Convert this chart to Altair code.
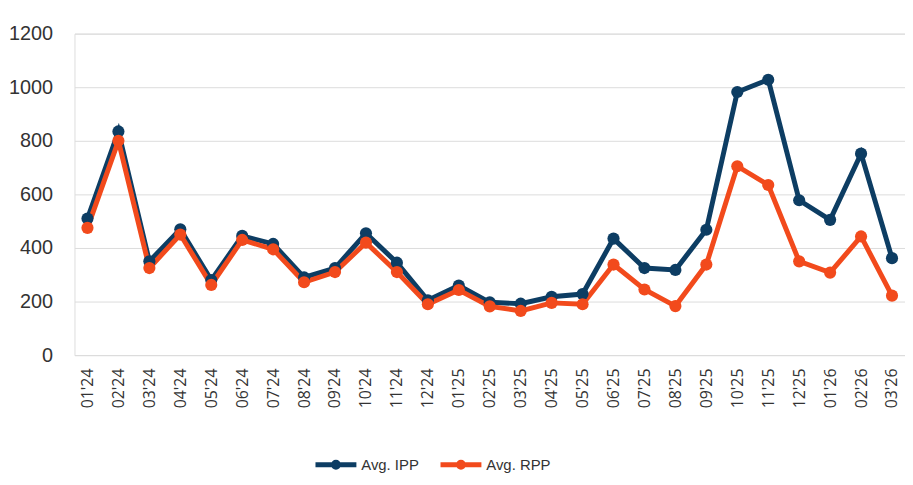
import altair as alt
import pandas as pd

months = ["01'24", "02'24", "03'24", "04'24", "05'24", "06'24", "07'24", "08'24", "09'24",
          "10'24", "11'24", "12'24", "01'25", "02'25", "03'25", "04'25", "05'25", "06'25",
          "07'25", "08'25", "09'25", "10'25", "11'25", "12'25", "01'26", "02'26", "03'26"]
ipp = [510, 835, 350, 470, 280, 445, 415, 290, 325, 455, 345, 205, 260, 197, 192, 218, 228,
       435, 325, 318, 468, 982, 1028, 578, 505, 752, 362]
rpp = [475, 800, 325, 450, 262, 430, 395, 272, 310, 420, 310, 190, 243, 182, 165, 195, 190,
       338, 245, 183, 338, 705, 635, 350, 308, 443, 222]
series = ["Avg. IPP", "Avg. RPP"]
colors = ["#0d3d63", "#f24a1c"]

rows = []
for i, m in enumerate(months):
    rows.append({"month": m, "series": series[0], "value": ipp[i], "order": i})
    rows.append({"month": m, "series": series[1], "value": rpp[i], "order": i})
df = pd.DataFrame(rows)

legend_symbol = "M-1,0L1,0M-0.12,0A0.12,0.12 0 1,1 0.12,0A0.12,0.12 0 1,1 -0.12,0Z"

chart = alt.Chart(df).mark_line(
    strokeWidth=5,
    point=alt.OverlayMarkDef(filled=True, size=150)
).encode(
    x=alt.X("month:N", sort=months,
            scale=alt.Scale(type="point", padding=0.42),
            axis=alt.Axis(title=None, labelAngle=-90, labelFontSize=16, labelColor="#333333",
                          labelFont="Open Sans", ticks=False, domain=False, grid=False,
                          labelPadding=13, labelBaseline="middle", labelAlign="right")),
    y=alt.Y("value:Q", scale=alt.Scale(domain=[0, 1200], nice=False),
            axis=alt.Axis(title=None, values=[0, 200, 400, 600, 800, 1000, 1200], format="d",
                          labelFontSize=20, labelColor="#333333", labelFont="Liberation Sans",
                          ticks=False, domain=False, gridColor="#dcdcdc", gridWidth=1,
                          labelPadding=22)),
    color=alt.Color("series:N", scale=alt.Scale(domain=series, range=colors),
                    legend=alt.Legend(orient="none", legendX=240, legendY=411,
                                      direction="horizontal", title=None,
                                      labelFontSize=15, labelFont="Liberation Sans",
                                      labelColor="#333333", symbolType=legend_symbol,
                                      symbolSize=1700, symbolStrokeWidth=5, symbolOffset=0,
                                      columnPadding=10, labelOffset=2)),
    order="order:Q"
).properties(
    width=837, height=324,
    padding={"left": 0, "top": 14, "right": 0, "bottom": 0}
).configure_view(stroke=None).configure(background="white")

chart.save("out.html", embed_options={"renderer": "svg", "actions": False})
